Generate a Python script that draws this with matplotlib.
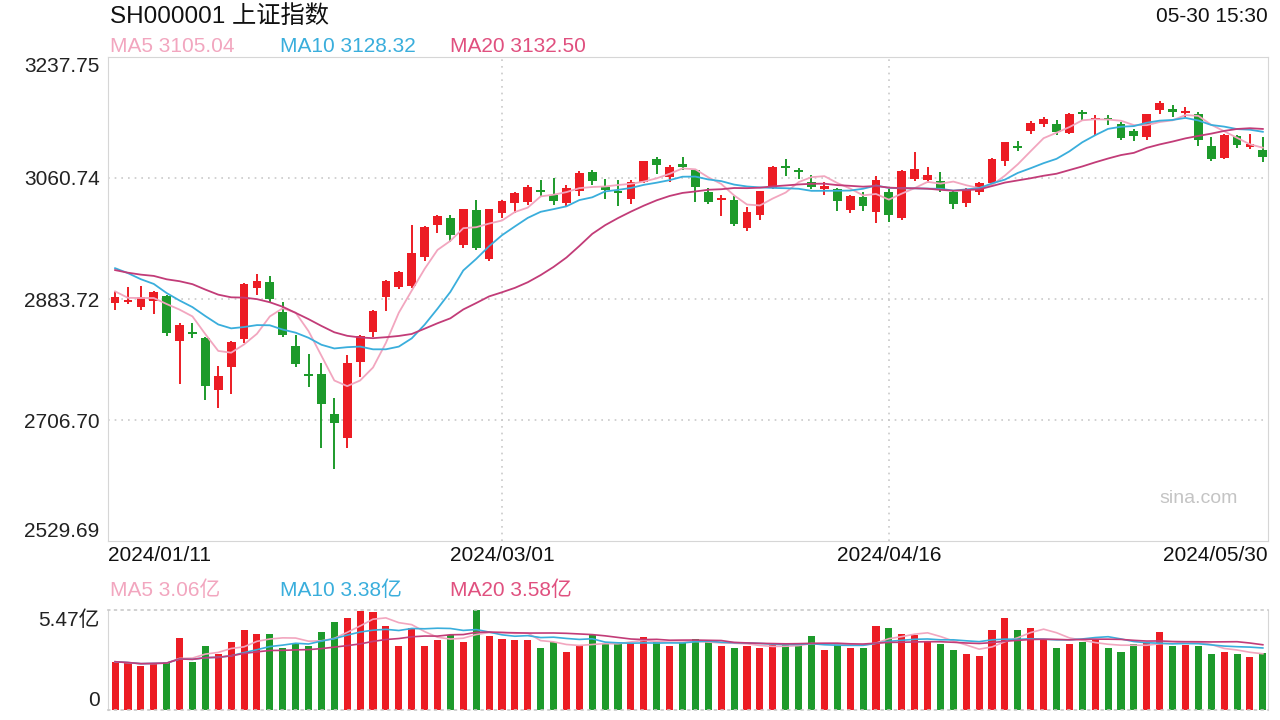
import matplotlib
matplotlib.use("Agg")
import matplotlib.pyplot as plt
import numpy as np
import pandas as pd

plt.rcParams["font.family"] = ["Liberation Sans", "Noto Sans CJK SC", "DejaVu Sans"]

# trading days shown, 2024/01/11 .. 2024/05/30
dates = (
    ["2024/01/%s" % d for d in ["11", "12", "15", "16", "17", "18", "19", "22", "23", "24", "25", "26", "29", "30", "31"]]
    + ["2024/02/%s" % d for d in ["01", "02", "05", "06", "07", "08", "19", "20", "21", "22", "23", "26", "27", "28", "29"]]
    + ["2024/03/%s" % d for d in ["01", "04", "05", "06", "07", "08", "11", "12", "13", "14", "15", "18", "19", "20",
                                  "21", "22", "25", "26", "27", "28", "29"]]
    + ["2024/04/%s" % d for d in ["01", "02", "03", "08", "09", "10", "11", "12", "15", "16", "17", "18", "19", "22",
                                  "23", "24", "25", "26", "29", "30"]]
    + ["2024/05/%s" % d for d in ["06", "07", "08", "09", "10", "13", "14", "15", "16", "17", "20", "21", "22", "23",
                                  "24", "27", "28", "29", "30"]]
)

opens = [2878, 2879, 2872, 2881, 2888, 2822, 2836, 2827, 2750, 2784, 2825, 2900, 2909, 2865, 2815,
         2774, 2774, 2715, 2680, 2791, 2836, 2886, 2902, 2903, 2945, 2992, 3002, 2962, 3014, 2942,
         3009, 3024, 3026, 3043, 3036, 3024, 3042, 3069, 3047, 3042, 3030, 3055, 3088, 3062, 3081,
         3072, 3040, 3028, 3028, 2988, 3006, 3046, 3078, 3072, 3055, 3045, 3044, 3014, 3033, 3011,
         3040, 3002, 3060, 3058, 3056, 3040, 3024, 3040, 3054, 3085, 3108, 3130, 3140, 3140, 3127,
         3158, 3146, 3148, 3140, 3130, 3121, 3160, 3162, 3156, 3155, 3108, 3090, 3122, 3106, 3102]
highs = [2895, 2901, 2903, 2896, 2890, 2848, 2848, 2828, 2785, 2823, 2907, 2921, 2918, 2879, 2831,
         2803, 2790, 2739, 2802, 2831, 2867, 2911, 2925, 2992, 2990, 3007, 3007, 3016, 3029, 3016,
         3029, 3040, 3050, 3058, 3061, 3050, 3071, 3072, 3060, 3058, 3058, 3086, 3092, 3080, 3092,
         3074, 3046, 3036, 3034, 3018, 3042, 3078, 3088, 3075, 3065, 3055, 3046, 3036, 3040, 3064,
         3045, 3072, 3099, 3077, 3070, 3042, 3046, 3055, 3090, 3114, 3115, 3144, 3150, 3145, 3156,
         3160, 3153, 3153, 3142, 3132, 3155, 3174, 3168, 3165, 3157, 3120, 3125, 3124, 3125, 3120]
lows = [2868, 2876, 2868, 2862, 2830, 2760, 2826, 2736, 2724, 2745, 2820, 2890, 2880, 2828, 2784,
        2755, 2666, 2635, 2666, 2770, 2828, 2866, 2898, 2900, 2940, 2981, 2967, 2958, 2956, 2940,
        3002, 3010, 3021, 3033, 3021, 3020, 3035, 3050, 3030, 3020, 3022, 3053, 3066, 3055, 3072,
        3025, 3022, 3005, 2990, 2983, 3000, 3044, 3063, 3060, 3045, 3036, 3012, 3010, 3012, 2995,
        2996, 3000, 3056, 3053, 3040, 3015, 3019, 3036, 3050, 3078, 3100, 3125, 3136, 3123, 3125,
        3145, 3124, 3138, 3117, 3115, 3116, 3155, 3150, 3150, 3108, 3085, 3088, 3105, 3103, 3084]
closes = [2886.65, 2881.98, 2886.29, 2893.25, 2833.62, 2845.78, 2832.28, 2756.34, 2770.74, 2820.77,
          2906.11, 2910.22, 2883.36, 2830.53, 2788.55, 2770.98, 2730.15, 2702.19, 2789.49, 2829.70,
          2865.90, 2910.54, 2922.73, 2950.96, 2988.36, 3004.88, 2977.02, 3015.48, 2957.85, 3015.17,
          3027.02, 3039.31, 3047.79, 3039.93, 3027.40, 3046.02, 3068.46, 3055.94, 3043.83, 3038.23,
          3054.64, 3084.93, 3079.69, 3077.11, 3077.38, 3048.03, 3026.31, 3031.48, 2993.14, 3010.66,
          3041.17, 3077.38, 3074.96, 3069.30, 3047.05, 3048.54, 3027.34, 3034.25, 3019.47, 3057.38,
          3007.07, 3071.38, 3074.22, 3065.26, 3044.60, 3021.98, 3044.82, 3052.90, 3088.64, 3113.04,
          3104.82, 3140.72, 3147.74, 3128.48, 3154.32, 3154.55, 3148.02, 3145.77, 3119.90, 3122.40,
          3154.03, 3171.15, 3157.97, 3158.54, 3116.39, 3088.87, 3124.04, 3109.57, 3111.02, 3091.68]
# closes before the first visible day, needed for the moving averages
prev_closes = [2958.99, 2942.56, 2930.80, 2932.39, 2902.11, 2918.71, 2914.78, 2918.81, 2898.87, 2914.61,
               2954.70, 2974.93, 2962.28, 2967.25, 2954.35, 2929.18, 2887.54, 2893.25, 2877.70]

# volume in 亿
volumes = [2.64, 2.55, 2.41, 2.59, 2.64, 3.92, 2.64, 3.50, 3.06, 3.70, 4.38, 4.14, 4.14, 3.37, 3.65,
           3.52, 4.25, 4.80, 5.01, 5.40, 5.38, 4.60, 3.50, 4.47, 3.50, 3.83, 4.10, 3.74, 5.47, 4.04,
           3.87, 3.83, 3.83, 3.41, 3.70, 3.15, 3.56, 4.10, 3.65, 3.65, 3.65, 4.01, 3.74, 3.50, 3.65,
           3.87, 3.83, 3.50, 3.41, 3.50, 3.41, 3.56, 3.56, 3.59, 4.05, 3.28, 3.59, 3.41, 3.41, 4.60,
           4.50, 4.14, 4.10, 3.77, 3.59, 3.28, 3.05, 2.95, 4.38, 5.01, 4.38, 4.47, 3.87, 3.41, 3.59,
           3.74, 3.83, 3.41, 3.15, 3.59, 3.72, 4.25, 3.50, 3.56, 3.52, 3.08, 3.18, 3.08, 2.92, 3.12]

price_ticks = [2529.69, 2706.70, 2883.72, 3060.74, 3237.75]
vol_top = 5.47
date_labels = ["2024/01/11", "2024/03/01", "2024/04/16", "2024/05/30"]
price_ma_text = ["MA5 3105.04", "MA10 3128.32", "MA20 3132.50"]
vol_ma_text = ["MA5 3.06亿", "MA10 3.38亿", "MA20 3.58亿"]

red = "#ec1c24"
green = "#1d9a2b"
c_ma5 = "#f2a6bf"
c_ma10 = "#3aaedc"
c_ma20 = "#c23c78"
grid_c = "#c9c9c9"
frame_c = "#d6d6d6"

o = np.array(opens, float)
h = np.array(highs, float)
l = np.array(lows, float)
c = np.array(closes, float)
v = np.array(volumes, float)
x = np.arange(len(c))
n_prev = len(prev_closes)

all_c = pd.Series(prev_closes + closes)
ma = {w: all_c.rolling(w).mean().values[n_prev:] for w in (5, 10, 20)}
vs = pd.Series(volumes)
vma = {w: vs.rolling(w, min_periods=1).mean().values for w in (5, 10, 20)}

fig = plt.figure(figsize=(12.8, 7.2), dpi=100)
fig.patch.set_facecolor("white")


def fx(px):
    return px / 1280


def fy(py):
    return 1 - py / 720


ax = fig.add_axes([fx(108), fy(541), fx(1160), 484 / 720])
axv = fig.add_axes([fx(108), fy(710), fx(1160), 100 / 720])

colors = np.where(c >= o, red, green)

# price panel
ax.vlines(x, l, h, colors=colors, lw=1.4, zorder=3)
ax.bar(x, np.maximum(np.abs(c - o), 1.3), bottom=np.minimum(o, c), width=0.68,
       color=colors, zorder=3)
ax.plot(x, ma[5], color=c_ma5, lw=1.3, zorder=4)
ax.plot(x, ma[10], color=c_ma10, lw=1.3, zorder=4)
ax.plot(x, ma[20], color=c_ma20, lw=1.3, zorder=4)

ax.set_xlim(-0.55, len(c) - 1 + 0.4)
ax.set_ylim(price_ticks[0], price_ticks[-1])
for t in price_ticks[1:-1]:
    ax.axhline(t, color=grid_c, lw=1.2, ls=(0, (1, 3)), zorder=1)
for d in date_labels[1:3]:
    ax.axvline(dates.index(d), color=grid_c, lw=1.2, ls=(0, (1, 3)), zorder=1)
for s in ax.spines.values():
    s.set_color(frame_c)
ax.set_xticks([])
ax.set_yticks(price_ticks)
ax.set_yticklabels(["%.2f" % t for t in price_ticks], fontsize=15, color="#222222")
ax.tick_params(axis="y", length=0, pad=6)
labels = ax.get_yticklabels()
labels[0].set_va("bottom")
labels[-1].set_va("top")

tr = ax.get_xaxis_transform()
for i, d in enumerate(date_labels):
    ha = "left" if i == 0 else ("right" if i == len(date_labels) - 1 else "center")
    xi = dates.index(d)
    if i == 0:
        xi = ax.get_xlim()[0]
    if i == len(date_labels) - 1:
        xi = ax.get_xlim()[1]
    ax.text(xi, -0.03, d, transform=tr, ha=ha, va="center", fontsize=15, color="#111111")

ax.text(0.94, 0.087, "sina.com", transform=ax.transAxes, ha="center", va="center",
        fontsize=14, color="#c4c4c4")

# volume panel
axv.bar(x, v, width=0.55, color=colors, zorder=2)
axv.plot(x, vma[5], color=c_ma5, lw=1.2, zorder=3)
axv.plot(x, vma[10], color=c_ma10, lw=1.2, zorder=3)
axv.plot(x, vma[20], color=c_ma20, lw=1.2, zorder=3)
axv.set_xlim(ax.get_xlim())
axv.set_ylim(0, vol_top)
axv.set_xticks([])
axv.set_yticks([0, vol_top])
axv.set_yticklabels(["0", "%.2f亿" % vol_top], fontsize=15, color="#222222")
axv.tick_params(axis="y", length=0, pad=6)
vl = axv.get_yticklabels()
vl[0].set_va("bottom")
vl[1].set_va("top")
for side in ("top", "bottom"):
    axv.spines[side].set_color(grid_c)
    axv.spines[side].set_linestyle((0, (1, 3)))
    axv.spines[side].set_linewidth(1.2)
for side in ("left", "right"):
    axv.spines[side].set_color(frame_c)

# header texts
label_colors = [c_ma5, c_ma10, "#e0507f"]
fig.text(fx(110), fy(17), "SH000001 上证指数", fontsize=17.5, color="#111111", va="center")
fig.text(fx(1268), fy(17), "05-30 15:30", fontsize=15, color="#111111", va="center", ha="right")
for px, t, col in zip([110, 280, 450], price_ma_text, label_colors):
    fig.text(fx(px), fy(47), t, fontsize=15, color=col, va="center")
for px, t, col in zip([110, 280, 450], vol_ma_text, label_colors):
    fig.text(fx(px), fy(590), t, fontsize=15, color=col, va="center")

fig.savefig("out.png", dpi=100, facecolor="white")
